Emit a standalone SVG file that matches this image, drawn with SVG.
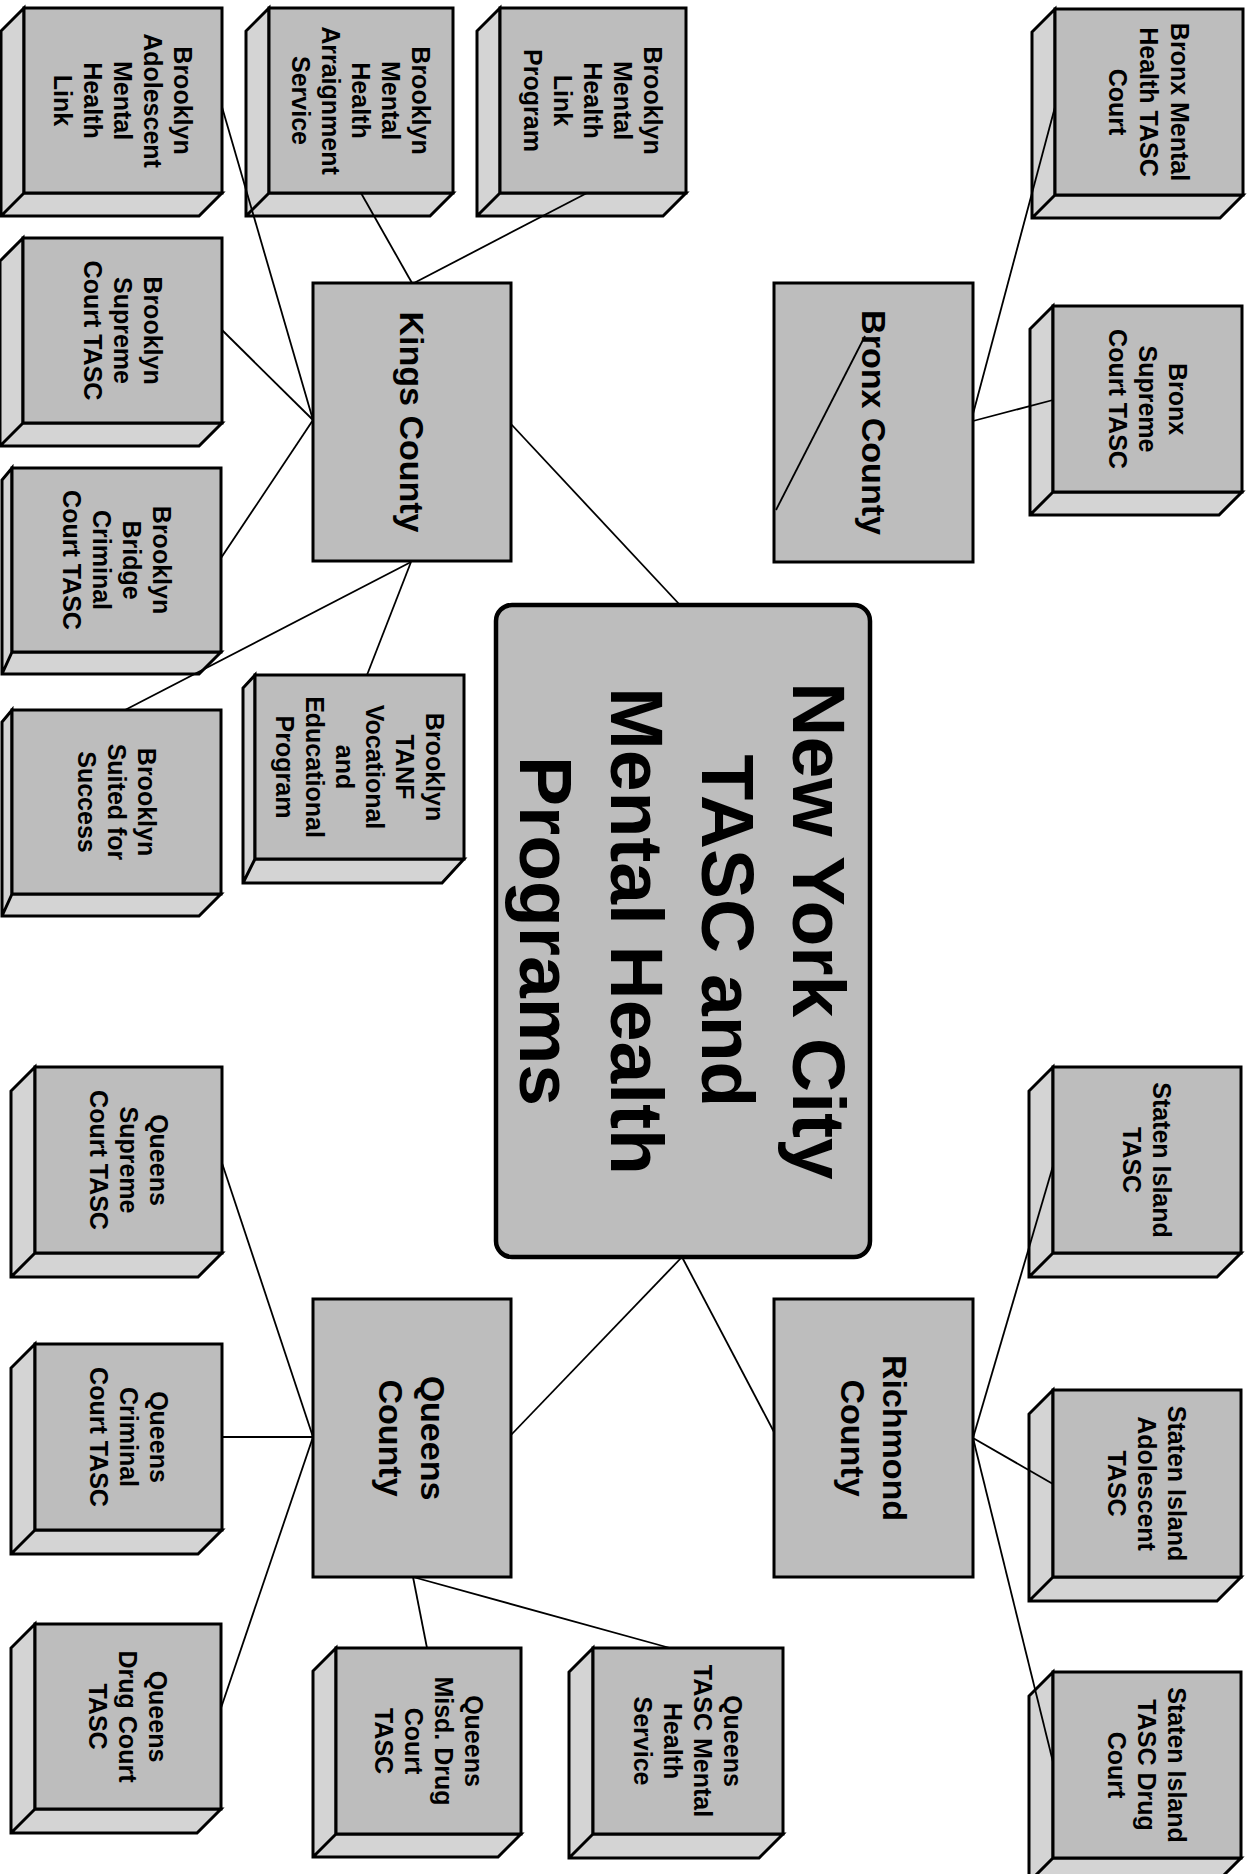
<svg xmlns="http://www.w3.org/2000/svg" width="1256" height="1874" viewBox="0 0 1256 1874">
<style>
.bg{fill:#fff}
.f{fill:#bdbdbd;stroke:#000;stroke-width:3}
.s{fill:#d4d4d4;stroke:#000;stroke-width:3;stroke-linejoin:miter}
.k{fill:#bdbdbd;stroke:#000;stroke-width:3}
.m{fill:#bdbdbd;stroke:#000;stroke-width:4.5}
.t{font-family:"Liberation Sans",Arial,sans-serif;font-weight:bold;font-size:25px;text-anchor:middle;fill:#000}
.tk{font-family:"Liberation Sans",Arial,sans-serif;font-weight:bold;font-size:34px;text-anchor:middle;fill:#000}
.tm{font-family:"Liberation Sans",Arial,sans-serif;font-weight:bold;font-size:75px;text-anchor:middle;fill:#000}
.c{stroke:#000;stroke-width:1.8;fill:none}
</style>
<rect class="bg" x="0" y="0" width="1256" height="1874"/>

<g id="nodes">
<g id="brooklyn-adolescent">
<path class="s" d="M24,8 L1,31 L1,216 L199,216 L222,193 L24,193 Z M24,193 L1,216"/>
<rect class="f" x="24" y="8" width="198" height="185"/>
<text class="t" transform="translate(123,100.5) rotate(90)"><tspan x="0" y="-51">Brooklyn</tspan><tspan x="0" y="-21">Adolescent</tspan><tspan x="0" y="9">Mental</tspan><tspan x="0" y="39">Health</tspan><tspan x="0" y="69">Link</tspan></text>
</g>
<g id="brooklyn-arraignment">
<path class="s" d="M269,8 L246,31 L246,216 L430,216 L453,193 L269,193 Z M269,193 L246,216"/>
<rect class="f" x="269" y="8" width="184" height="185"/>
<text class="t" transform="translate(361,100.5) rotate(90)"><tspan x="0" y="-51">Brooklyn</tspan><tspan x="0" y="-21">Mental</tspan><tspan x="0" y="9">Health</tspan><tspan x="0" y="39">Arraignment</tspan><tspan x="0" y="69">Service</tspan></text>
</g>
<g id="brooklyn-link-program">
<path class="s" d="M500,8 L477,31 L477,216 L663,216 L686,193 L500,193 Z M500,193 L477,216"/>
<rect class="f" x="500" y="8" width="186" height="185"/>
<text class="t" transform="translate(593,100.5) rotate(90)"><tspan x="0" y="-51">Brooklyn</tspan><tspan x="0" y="-21">Mental</tspan><tspan x="0" y="9">Health</tspan><tspan x="0" y="39">Link</tspan><tspan x="0" y="69">Program</tspan></text>
</g>
<g id="brooklyn-supreme">
<path class="s" d="M23,238 L0,261 L0,446 L199,446 L222,423 L23,423 Z M23,423 L0,446"/>
<rect class="f" x="23" y="238" width="199" height="185"/>
<text class="t" transform="translate(122.5,330.5) rotate(90)"><tspan x="0" y="-21">Brooklyn</tspan><tspan x="0" y="9">Supreme</tspan><tspan x="0" y="39">Court TASC</tspan></text>
</g>
<g id="brooklyn-bridge">
<path class="s" d="M12,468 L2,480 L2,674 L199,674 L221,652 L12,652 Z M12,652 L2,674"/>
<rect class="f" x="12" y="468" width="209" height="184"/>
<text class="t" transform="translate(116.5,560) rotate(90)"><tspan x="0" y="-36">Brooklyn</tspan><tspan x="0" y="-6">Bridge</tspan><tspan x="0" y="24">Criminal</tspan><tspan x="0" y="54">Court TASC</tspan></text>
</g>
<g id="brooklyn-suited">
<path class="s" d="M12,710 L2,722 L2,916 L199,916 L221,894 L12,894 Z M12,894 L2,916"/>
<rect class="f" x="12" y="710" width="209" height="184"/>
<text class="t" transform="translate(116.5,802) rotate(90)"><tspan x="0" y="-21">Brooklyn</tspan><tspan x="0" y="9">Suited for</tspan><tspan x="0" y="39">Success</tspan></text>
</g>
<g id="brooklyn-tanf">
<path class="s" d="M255,675 L243,688 L243,883 L442,883 L464,859 L255,859 Z M255,859 L243,883"/>
<rect class="f" x="255" y="675" width="209" height="184"/>
<text class="t" transform="translate(359.5,767) rotate(90)"><tspan x="0" y="-66">Brooklyn</tspan><tspan x="0" y="-36">TANF</tspan><tspan x="0" y="-6">Vocational</tspan><tspan x="0" y="24">and</tspan><tspan x="0" y="54">Educational</tspan><tspan x="0" y="84">Program</tspan></text>
</g>
<g id="kings-county">
<rect class="k" x="313" y="283" width="198" height="278"/>
<text class="tk" transform="translate(412,422) rotate(90)"><tspan x="0" y="12">Kings County</tspan></text>
</g>
<g id="bronx-county">
<rect class="k" x="774" y="283" width="199" height="279"/>
<text class="tk" transform="translate(873.5,422.5) rotate(90)"><tspan x="0" y="12">Bronx County</tspan></text>
</g>
<g id="bronx-mental">
<path class="s" d="M1055,9 L1032,32 L1032,218 L1220,218 L1243,195 L1055,195 Z M1055,195 L1032,218"/>
<rect class="f" x="1055" y="9" width="188" height="186"/>
<text class="t" transform="translate(1149,102) rotate(90)"><tspan x="0" y="-22">Bronx Mental</tspan><tspan x="0" y="9">Health TASC</tspan><tspan x="0" y="40">Court</tspan></text>
</g>
<g id="bronx-supreme">
<path class="s" d="M1053,306 L1030,329 L1030,515 L1219,515 L1242,492 L1053,492 Z M1053,492 L1030,515"/>
<rect class="f" x="1053" y="306" width="189" height="186"/>
<text class="t" transform="translate(1147.5,399) rotate(90)"><tspan x="0" y="-21">Bronx</tspan><tspan x="0" y="9">Supreme</tspan><tspan x="0" y="39">Court TASC</tspan></text>
</g>
<g id="nyc-center">
<rect class="m" x="496" y="605" width="374" height="652" rx="16" ry="16"/>
<text class="tm" transform="translate(683,931) rotate(90)"><tspan x="0" y="-110">New York City</tspan><tspan x="0" y="-19">TASC and</tspan><tspan x="0" y="72">Mental Health</tspan><tspan x="0" y="163">Programs</tspan></text>
</g>
<g id="queens-county">
<rect class="k" x="313" y="1299" width="198" height="278"/>
<text class="tk" transform="translate(412,1438) rotate(90)"><tspan x="0" y="-9">Queens</tspan><tspan x="0" y="33">County</tspan></text>
</g>
<g id="richmond-county">
<rect class="k" x="774" y="1299" width="199" height="278"/>
<text class="tk" transform="translate(873.5,1438) rotate(90)"><tspan x="0" y="-9">Richmond</tspan><tspan x="0" y="33">County</tspan></text>
</g>
<g id="queens-supreme">
<path class="s" d="M35,1067 L11,1091 L11,1277 L198,1277 L222,1253 L35,1253 Z M35,1253 L11,1277"/>
<rect class="f" x="35" y="1067" width="187" height="186"/>
<text class="t" transform="translate(128.5,1160) rotate(90)"><tspan x="0" y="-21">Queens</tspan><tspan x="0" y="9">Supreme</tspan><tspan x="0" y="39">Court TASC</tspan></text>
</g>
<g id="queens-criminal">
<path class="s" d="M35,1344 L11,1368 L11,1554 L198,1554 L222,1530 L35,1530 Z M35,1530 L11,1554"/>
<rect class="f" x="35" y="1344" width="187" height="186"/>
<text class="t" transform="translate(128.5,1437) rotate(90)"><tspan x="0" y="-21">Queens</tspan><tspan x="0" y="9">Criminal</tspan><tspan x="0" y="39">Court TASC</tspan></text>
</g>
<g id="queens-drug">
<path class="s" d="M35,1624 L11,1648 L11,1833 L197,1833 L221,1809 L35,1809 Z M35,1809 L11,1833"/>
<rect class="f" x="35" y="1624" width="186" height="185"/>
<text class="t" transform="translate(128,1716.5) rotate(90)"><tspan x="0" y="-21">Queens</tspan><tspan x="0" y="9">Drug Court</tspan><tspan x="0" y="39">TASC</tspan></text>
</g>
<g id="queens-misd">
<path class="s" d="M336,1648 L313,1671 L313,1857 L498,1857 L521,1834 L336,1834 Z M336,1834 L313,1857"/>
<rect class="f" x="336" y="1648" width="185" height="186"/>
<text class="t" transform="translate(428.5,1741) rotate(90)"><tspan x="0" y="-36">Queens</tspan><tspan x="0" y="-6">Misd. Drug</tspan><tspan x="0" y="24">Court</tspan><tspan x="0" y="54">TASC</tspan></text>
</g>
<g id="queens-tasc-mental">
<path class="s" d="M593,1648 L569,1672 L569,1858 L759,1858 L783,1834 L593,1834 Z M593,1834 L569,1858"/>
<rect class="f" x="593" y="1648" width="190" height="186"/>
<text class="t" transform="translate(688,1741) rotate(90)"><tspan x="0" y="-36">Queens</tspan><tspan x="0" y="-6">TASC Mental</tspan><tspan x="0" y="24">Health</tspan><tspan x="0" y="54">Service</tspan></text>
</g>
<g id="staten-tasc">
<path class="s" d="M1053,1067 L1029,1091 L1029,1277 L1217,1277 L1241,1253 L1053,1253 Z M1053,1253 L1029,1277"/>
<rect class="f" x="1053" y="1067" width="188" height="186"/>
<text class="t" transform="translate(1147,1160) rotate(90)"><tspan x="0" y="-6">Staten Island</tspan><tspan x="0" y="24">TASC</tspan></text>
</g>
<g id="staten-adolescent">
<path class="s" d="M1053,1390 L1029,1414 L1029,1601 L1217,1601 L1241,1577 L1053,1577 Z M1053,1577 L1029,1601"/>
<rect class="f" x="1053" y="1390" width="188" height="187"/>
<text class="t" transform="translate(1147,1483.5) rotate(90)"><tspan x="0" y="-21">Staten Island</tspan><tspan x="0" y="9">Adolescent</tspan><tspan x="0" y="39">TASC</tspan></text>
</g>
<g id="staten-drug">
<path class="s" d="M1053,1672 L1029,1696 L1029,1882 L1217,1882 L1241,1858 L1053,1858 Z M1053,1858 L1029,1882"/>
<rect class="f" x="1053" y="1672" width="188" height="186"/>
<text class="t" transform="translate(1147,1765) rotate(90)"><tspan x="0" y="-21">Staten Island</tspan><tspan x="0" y="9">TASC Drug</tspan><tspan x="0" y="39">Court</tspan></text>
</g>
</g>

<g id="connectors">
<line class="c" x1="412" y1="283" x2="361" y2="193"/>
<line class="c" x1="414" y1="283" x2="587" y2="193"/>
<line class="c" x1="313" y1="420" x2="222" y2="107"/>
<line class="c" x1="313" y1="420" x2="222" y2="330"/>
<line class="c" x1="313" y1="420" x2="221" y2="558"/>
<line class="c" x1="411" y1="562" x2="367" y2="675"/>
<line class="c" x1="411" y1="562" x2="125" y2="710"/>
<line class="c" x1="511" y1="424" x2="680" y2="605"/>
<line class="c" x1="682" y1="1257" x2="511" y2="1435"/>
<line class="c" x1="682" y1="1257" x2="774" y2="1432"/>
<line class="c" x1="313" y1="1437" x2="222" y2="1163"/>
<line class="c" x1="313" y1="1437" x2="222" y2="1437"/>
<line class="c" x1="313" y1="1437" x2="221" y2="1708"/>
<line class="c" x1="413" y1="1577" x2="427" y2="1648"/>
<line class="c" x1="413" y1="1577" x2="670" y2="1648"/>
<line class="c" x1="973" y1="1438" x2="1053" y2="1166"/>
<line class="c" x1="973" y1="1438" x2="1053" y2="1484"/>
<line class="c" x1="973" y1="1438" x2="1053" y2="1762"/>
<line class="c" x1="973" y1="414" x2="1055" y2="107"/>
<line class="c" x1="973" y1="421" x2="1053" y2="400"/>
<line class="c" x1="776" y1="510" x2="865" y2="336"/>
</g>
</svg>
